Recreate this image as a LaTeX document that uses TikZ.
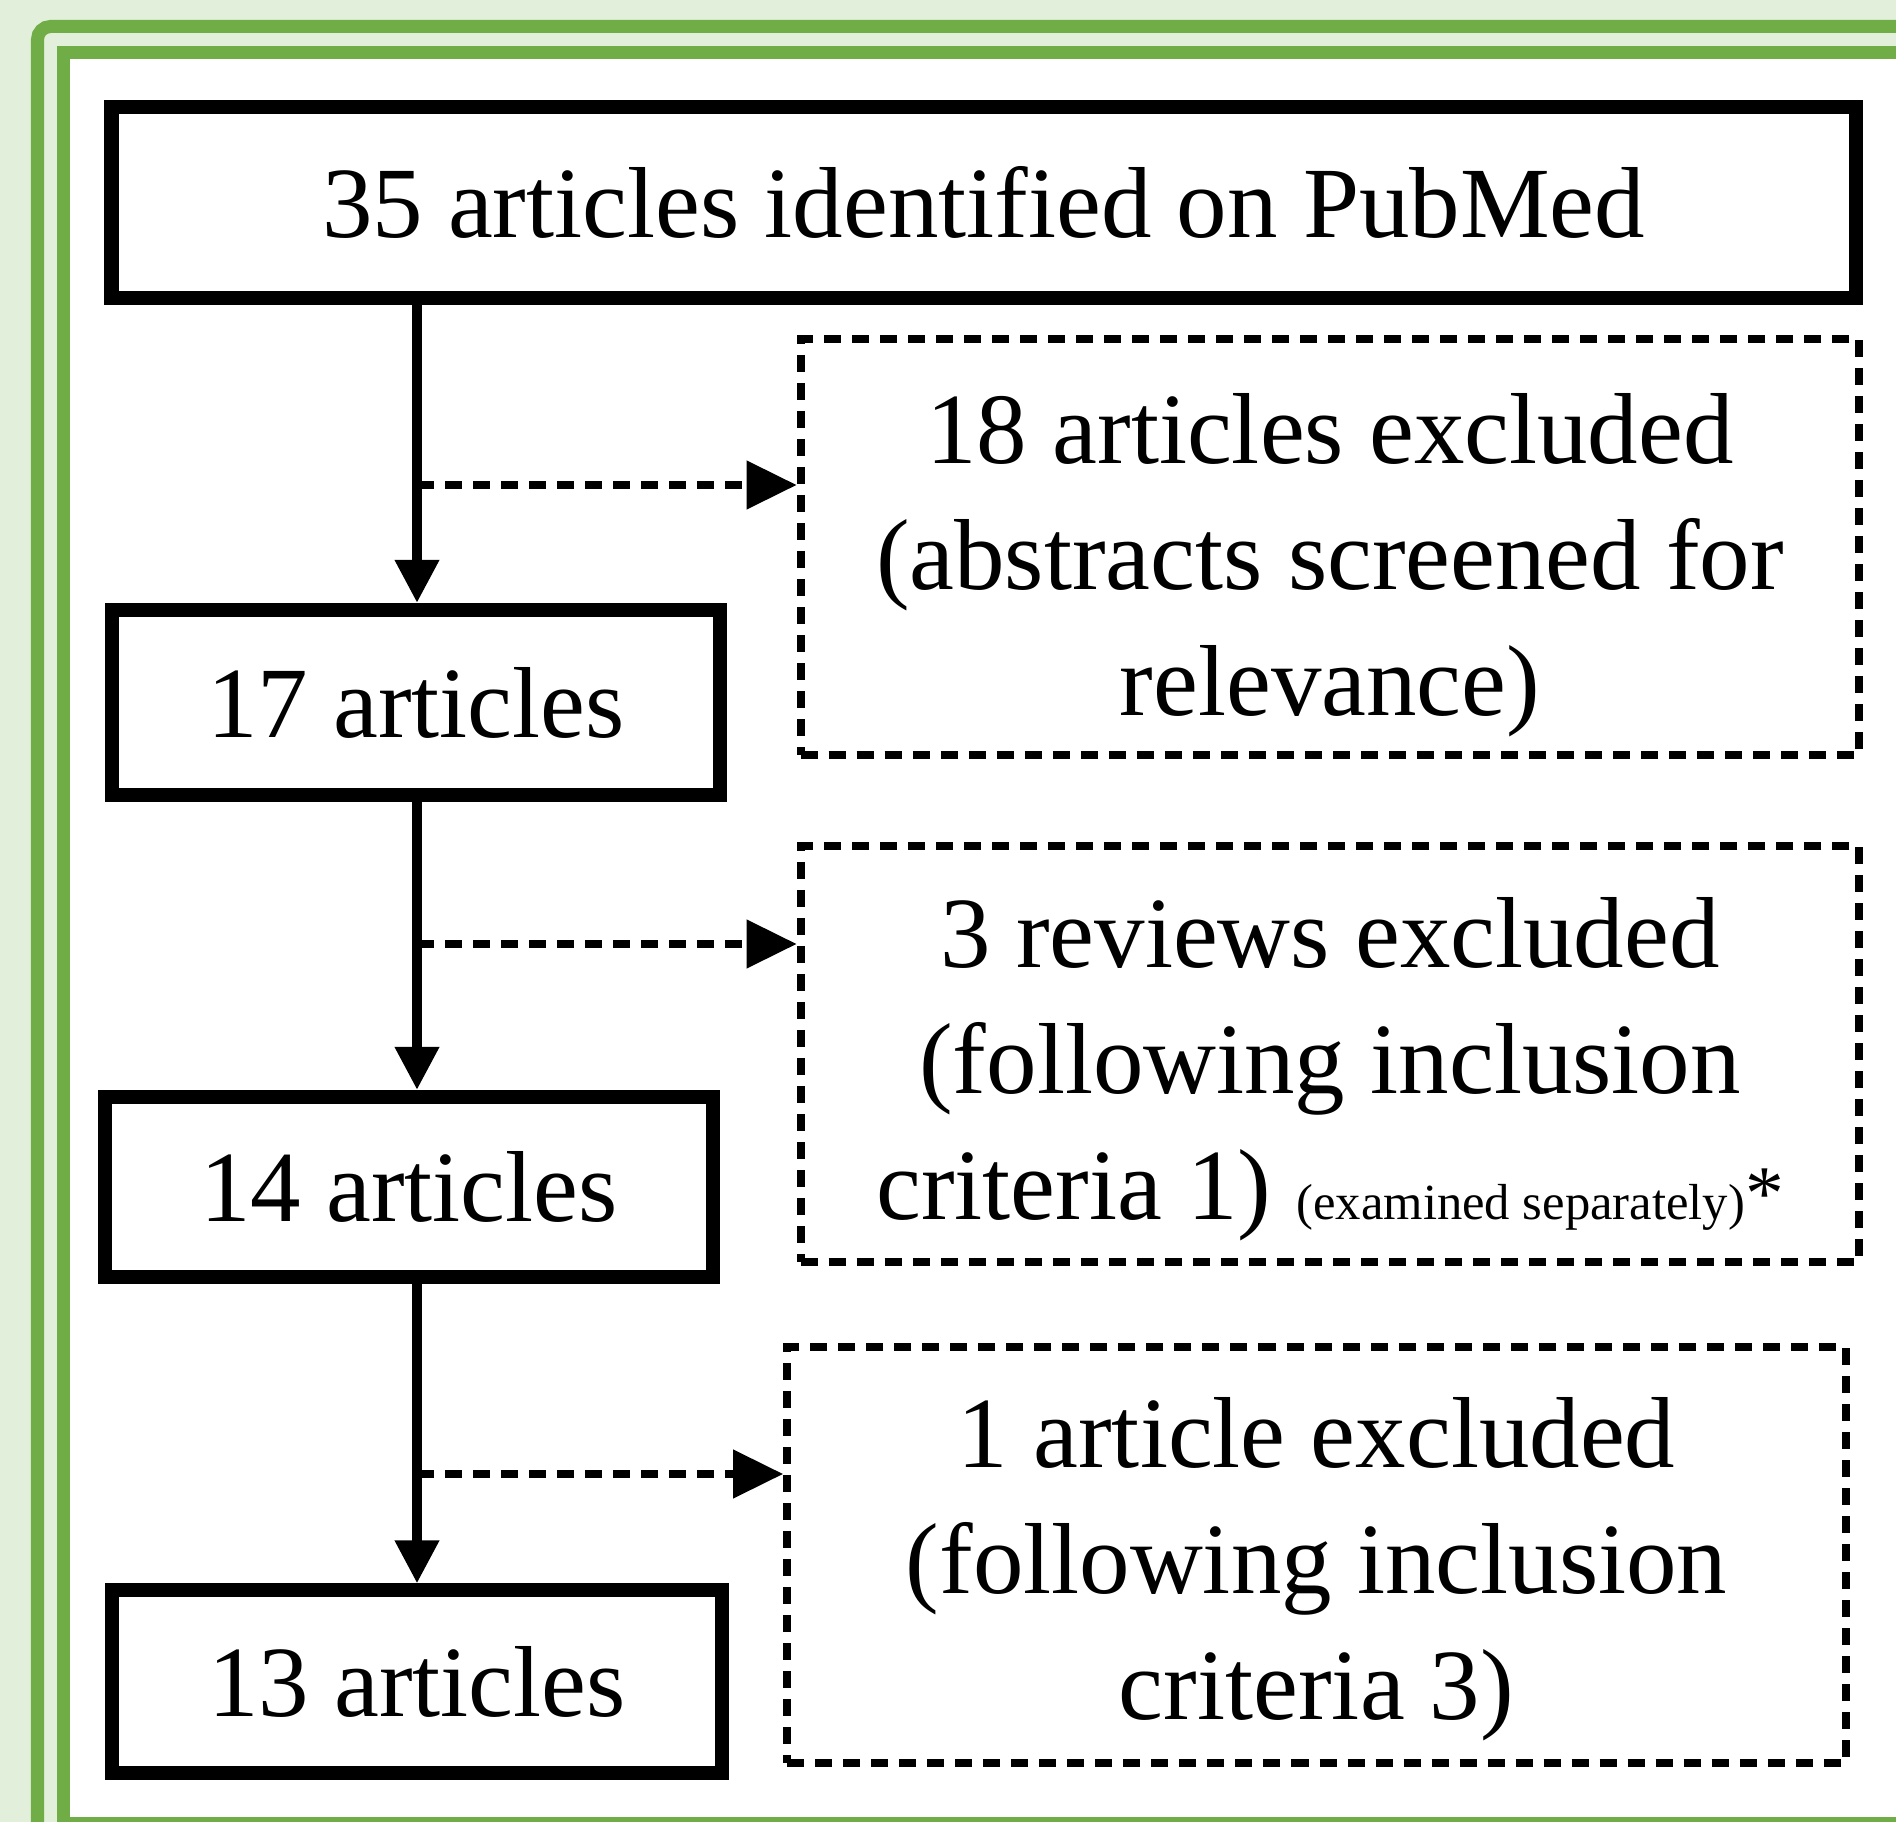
\documentclass[tikz,border=0pt]{standalone}
\usepackage{fontspec}
\setmainfont{Liberation Serif}
\usetikzlibrary{arrows.meta}
\definecolor{framegreen}{RGB}{112,173,71}
\definecolor{palegreen}{RGB}{226,239,218}
\begin{document}
\begin{tikzpicture}[x=0.01cm,y=-0.01cm,
  every node/.style={font=\fontsize{28.7}{35.8}\selectfont},
  countbox/.style={draw,line width=0.14cm,inner sep=0pt},
  exclbox/.style={draw,line width=0.08cm,dash pattern=on 0.17cm off 0.11cm,minimum width=10.58cm,minimum height=4.16cm,inner sep=0pt},
  exctext/.style={align=center,inner sep=0pt},
  flow/.style={line width=0.1cm,-{Triangle[length=0.43cm,width=0.42cm]}},
  side/.style={line width=0.075cm,dash pattern=on 0.17cm off 0.11cm,-{Triangle[length=0.5cm,width=0.47cm]}}]
  % frame
  \path[use as bounding box,fill=palegreen] (0,0) rectangle (1896,1822);
  \clip (0,0) rectangle (1896,1822);
  \draw[framegreen,line width=0.13cm,rounded corners=0.13cm] (37.5,26.5) rectangle (1960,1880);
  \draw[framegreen,line width=0.13cm,fill=white] (63.5,52.5) rectangle (1930,1823);
  % counts
  \node[countbox,minimum width=17.43cm,minimum height=1.91cm] (top) at (983.5,202.5) {35 articles identified on PubMed};
  \node[countbox,minimum width=6.08cm,minimum height=1.85cm] (b17) at (416,702.5) {17 articles};
  \node[countbox,minimum width=6.08cm,minimum height=1.80cm] (b14) at (409,1187) {14 articles};
  \node[countbox,minimum width=6.10cm,minimum height=1.82cm] (b13) at (417,1681.5) {13 articles};
  % exclusions
  \node[exclbox] (d1) at (1330,547) {};
  \node[exclbox] (d2) at (1330,1054) {};
  \node[exclbox] (d3) at (1316.5,1555) {};
  \node[exctext] (t1) at (1330,565) {18 articles excluded\\(abstracts screened for\\relevance)};
  \node[exctext] (t2) at (1330,1069) {3 reviews excluded\\(following inclusion\\criteria 1) {\fontsize{14.4}{16}\selectfont(examined separately)}{\fontsize{22}{26}\selectfont*}};
  \node[exctext] (t3) at (1316.5,1569) {1 article excluded\\(following inclusion\\criteria 3)};
  % arrows
  \coordinate (trunk) at (417,0);
  \foreach \a/\b in {top/b17,b17/b14,b14/b13}
    \draw[flow] (\a.south -| trunk) -- (\b.north -| trunk);
  \foreach \y/\d in {485/d1,944/d2,1474/d3}{
    \coordinate (e\d) at (417,\y);
    \draw[side] (e\d) -- (e\d -| \d.west);
  }
\end{tikzpicture}
\end{document}
